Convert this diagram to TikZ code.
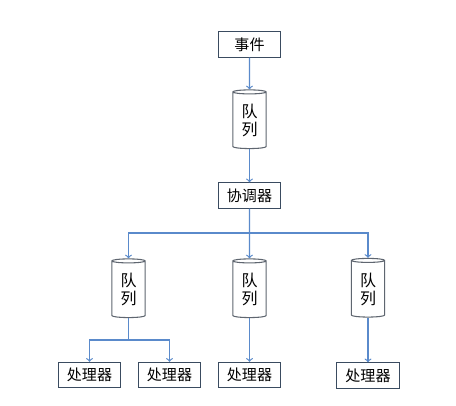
\documentclass[tikz,border=0pt]{standalone}
\usepackage{fontspec}
\setmainfont{Noto Sans CJK SC}
\usetikzlibrary{shapes.geometric}
\definecolor{linkblue}{HTML}{5A8ACB}
\definecolor{boxline}{HTML}{3A4B60}
\definecolor{drumline}{HTML}{5F6670}
\begin{document}
\begin{tikzpicture}
		[x=0.75pt,y=-0.75pt,
		box/.style = {shape=rectangle, draw=boxline, line width=0.8pt, inner sep=0pt, minimum width=47pt, minimum height=19pt, font=\fontsize{11.3pt}{12pt}\selectfont},
		drum/.style = {shape=cylinder, shape border rotate=90, aspect=0.25, draw=drumline, line width=0.8pt, inner sep=0pt, minimum width=25pt, minimum height=44pt, align=center, font=\fontsize{12pt}{13.5pt}\selectfont},
		link/.style = {draw=linkblue, line width=0.9pt, ->}]
		\fill[white] (0,0) rectangle (456,406);
		\useasboundingbox (0,0) rectangle (456,406);
		% top chain
		\node[box,name=ev] at (249.5,44.5) {事件};
		\node[drum,name=q0] at (249.5,120.5) {队\\列};
		\node[box,name=co] at (249.5,195.5) {协调器};
		% queues
		\node[drum,name=q1] at (128.5,289.5) {队\\列};
		\node[drum,name=q2] at (249.5,289.5) {队\\列};
		\node[drum,name=q3] at (368,289) {队\\列};
		% handlers
		\node[box,name=p1] at (89.5,375) {处理器};
		\node[box,name=p2] at (169.5,375) {处理器};
		\node[box,name=p3] at (249.5,375) {处理器};
		\node[box,name=p4] at (368,375.5) {处理器};
		\coordinate (fork) at (249.5,233);
		\coordinate (split) at (128.5,340);
		\draw[link] (ev) -- (q0.north);
		\draw[link] (q0.south) -- (co);
		\draw[link] (co) -- (q2.north);
		\draw[link] (fork) -| (q1.north);
		\draw[link] (fork) -| (q3.north);
		\draw[link,-] (q1.south) -- (split);
		\draw[link] (split) -| (p1);
		\draw[link] (split) -| (p2);
		\draw[link] (q2.south) -- (p3);
		\draw[link] (q3.south) -- (p4);
	\end{tikzpicture}
\end{document}
